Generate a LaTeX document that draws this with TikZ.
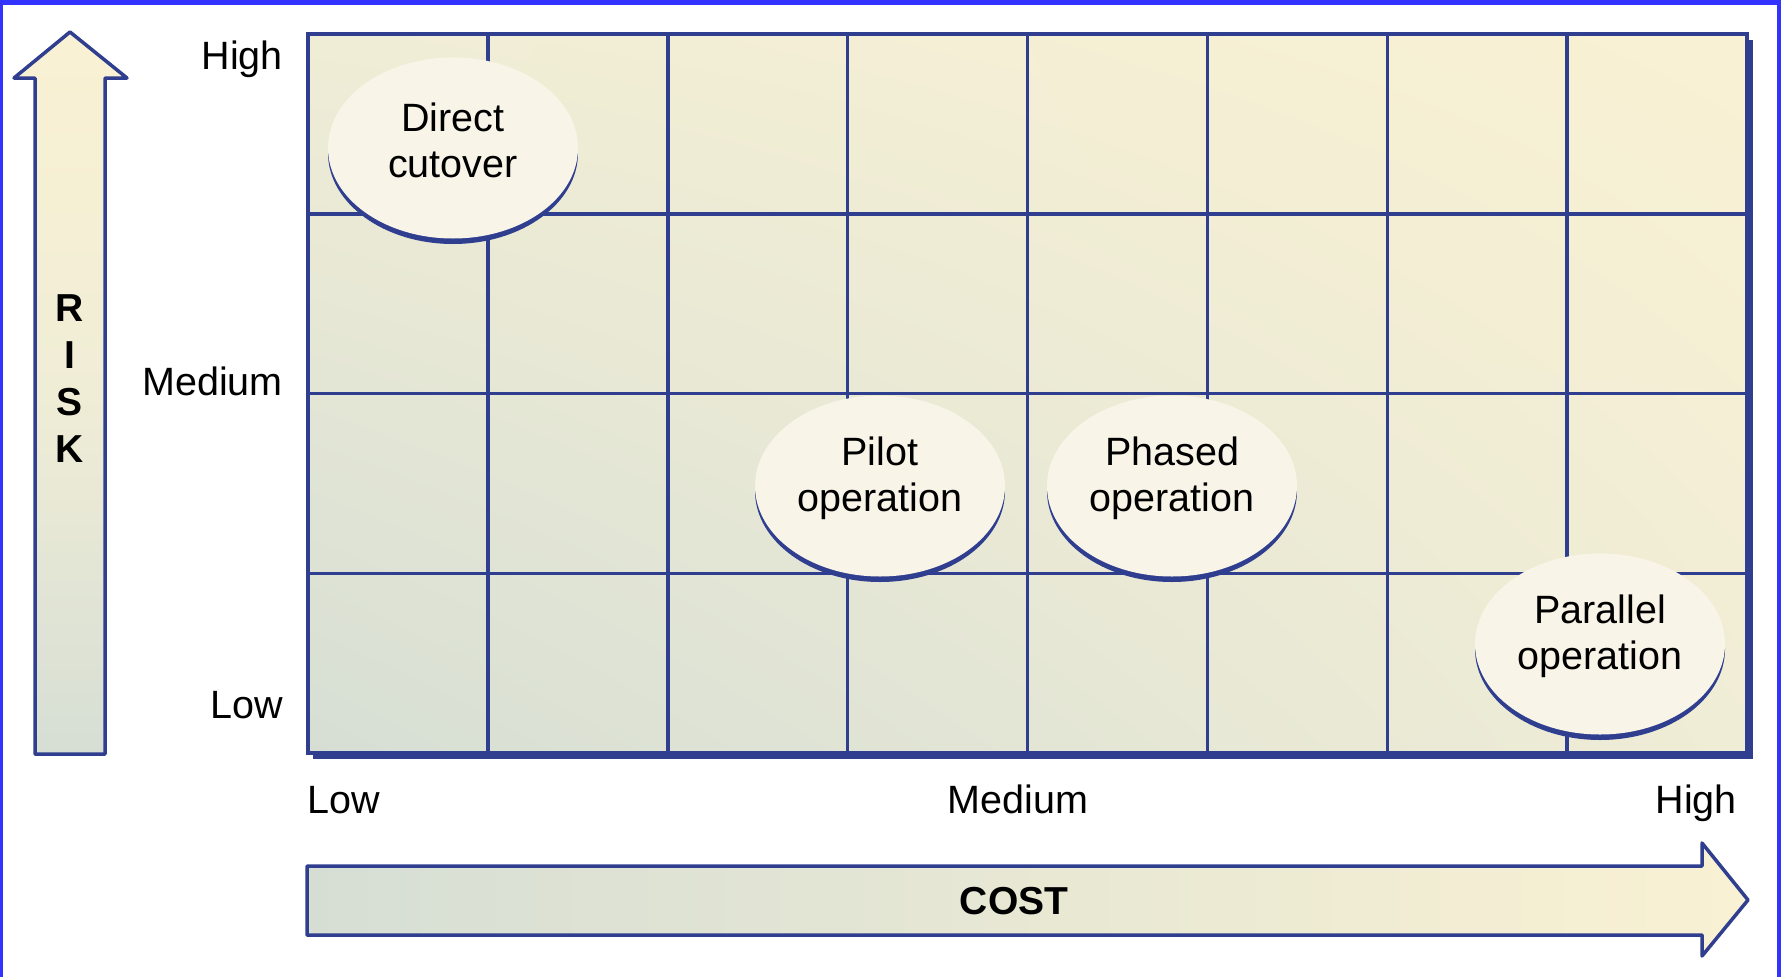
\documentclass[tikz,border=0pt]{standalone}
\usepackage{fontspec}
\setmainfont{Liberation Sans}
\usetikzlibrary{shapes.geometric,shadings}
\definecolor{frameblue}{RGB}{51,51,255}
\definecolor{lineblue}{RGB}{47,62,143}
\definecolor{cream}{RGB}{249,241,211}
\definecolor{greygreen}{RGB}{214,222,212}
\definecolor{midtone}{RGB}{240,237,214}
\definecolor{ellcream}{RGB}{249,244,232}
\begin{document}
\begin{tikzpicture}[x=1pt,y=-1pt,
  gridline/.style={draw=lineblue, line width=3.5pt},
  bigarrow/.style={draw=lineblue, line width=3.5pt, line join=round},
  ellshadow/.style={ellipse, minimum width=250pt, minimum height=182pt, inner sep=0pt, outer sep=0pt, fill=lineblue},
  ellbody/.style={ellipse, minimum width=250pt, minimum height=181pt, inner sep=0pt, outer sep=0pt, fill=ellcream},
  etext/.style={align=center, inner sep=0pt, font=\fontsize{39.5}{46}\selectfont},
  axlabel/.style={inner sep=0pt, font=\fontsize{39.5}{46}\selectfont},
  boldlabel/.style={inner sep=0pt, font=\bfseries\fontsize{39}{46}\selectfont}]
\useasboundingbox (0,0) rectangle (1781,977);
\fill[white] (0,0) rectangle (1781,977);
% outer blue frame
\fill[frameblue] (0,0) rectangle (1781,5);
\fill[frameblue] (0,0) rectangle (3,977);
\fill[frameblue] (1777,0) rectangle (1781,977);

% RISK arrow
\shade[top color=cream, bottom color=greygreen, middle color=midtone]
  (35,754) -- (35,78) -- (14,78) -- (70,32) -- (127,78) -- (105,78) -- (105,754) -- cycle;
\draw[bigarrow] (35,754) -- (35,78) -- (14,78) -- (70,32) -- (127,78) -- (105,78) -- (105,754) -- cycle;
\foreach \c [count=\k from 0] in {R,I,S,K}
  \node[boldlabel, anchor=base] (risk\k) at (70,{321+47*\k}) {\c};

% COST arrow
\shade[left color=greygreen, right color=cream]
  (307,866) -- (1702,866) -- (1702,843) -- (1748,900) -- (1702,956) -- (1702,935) -- (307,935) -- cycle;
\draw[bigarrow] (307,866) -- (1702,866) -- (1702,843) -- (1748,900) -- (1702,956) -- (1702,935) -- (307,935) -- cycle;
\node[boldlabel] (cost) at (1014,901) {COST};

% grid shadow and body
\fill[lineblue] (313,40) rectangle (1753,759);
\shade[upper left=midtone, upper right=cream, lower left=greygreen, lower right=midtone]
  (308,34) rectangle (1747,753);
\foreach \i in {1,...,7}
  \draw[gridline] ({308+179.875*\i},34) -- ({308+179.875*\i},753);
\foreach \j in {1,2,3}
  \draw[gridline] (308,{34+179.75*\j}) -- (1747,{34+179.75*\j});
\draw[gridline, line width=4pt] (308,34) rectangle (1747,753);

% risk axis labels
\node[axlabel, anchor=base east] (rhigh) at (283,69) {High};
\node[axlabel, anchor=base east] (rmed) at (283,395) {Medium};
\node[axlabel, anchor=base east] (rlow) at (283,718) {Low};
% cost axis labels
\node[axlabel, anchor=base west] (clow) at (307,813) {Low};
\node[axlabel, anchor=base] (cmed) at (1018,813) {Medium};
\node[axlabel, anchor=base east] (chigh) at (1737,813) {High};

% ellipses
\node[ellshadow] (directsh) at (453,153) {};
\node[ellbody] (direct) at (453,148) {};
\node[etext] (directtext) at ([yshift=8pt]direct.center) {Direct\\cutover};

\node[ellshadow] (pilotsh) at (880,491) {};
\node[ellbody] (pilot) at (880,486) {};
\node[etext] (pilottext) at ([yshift=8pt]pilot.center) {Pilot\\operation};

\node[ellshadow] (phasedsh) at (1172,491) {};
\node[ellbody] (phased) at (1172,486) {};
\node[etext] (phasedtext) at ([yshift=8pt]phased.center) {Phased\\operation};

\node[ellshadow] (parallelsh) at (1600,649) {};
\node[ellbody] (parallel) at (1600,644) {};
\node[etext] (paralleltext) at ([yshift=8pt]parallel.center) {Parallel\\operation};
\end{tikzpicture}
\end{document}
